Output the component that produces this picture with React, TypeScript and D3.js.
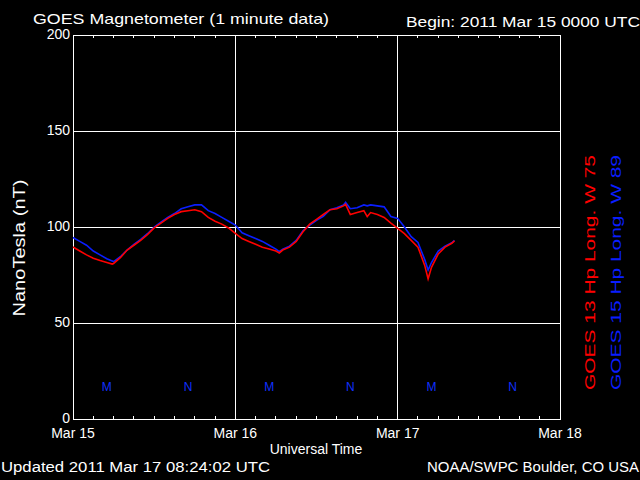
import React from "react";
import * as d3 from "d3";

// hours since 2011 Mar 15 00:00 UTC
const hours = [0, 1, 2, 3, 4, 5, 5.8, 6, 7, 8, 9, 10, 11, 12, 13, 14, 15, 16, 17, 18, 19, 20, 21, 22, 23, 24, 25, 26, 27, 28, 29, 30, 30.5, 31, 32, 33, 34, 35, 36, 37, 38, 39, 40, 40.3, 41, 42, 43, 43.5, 44, 45, 46, 47, 48, 49, 50, 51, 52, 52.5, 53, 54, 55, 56, 56.4];
const goes13 = [89.6, 87.5, 85.5, 83.7, 82.5, 81.5, 80.7, 81, 84, 88, 90.5, 93, 96, 99.5, 102, 104.5, 106.5, 108, 108.5, 109, 108, 105, 103, 101.5, 99.5, 96.7, 94, 92.5, 91, 89.5, 88.5, 87.5, 86.5, 88, 89.5, 92.5, 97.5, 101.5, 104, 106.5, 109, 109.5, 111, 111.8, 106.5, 107.5, 108.5, 105.4, 107.5, 106.5, 105, 102, 99.3, 96.5, 93, 89.5, 80, 73, 79, 86, 89.5, 91.5, 92.8];
const goes15 = [94.5, 92.5, 90.5, 87.5, 85.5, 83.5, 82.3, 82, 84.5, 88, 91, 93.5, 96.5, 100, 102.5, 105, 107, 109.5, 110.5, 111.5, 111.5, 108.5, 107, 105, 103, 101, 97, 95.5, 94, 92.5, 90.5, 88.5, 87.2, 88.5, 90, 93, 98, 101, 103.5, 105.5, 109, 110, 111.5, 112.8, 109.5, 110, 111.5, 111, 111.5, 111, 110.5, 105.5, 104.5, 100, 95, 92, 83, 77.6, 81.5, 87.5, 90, 91.8, 93];

const yTicks = [0, 50, 100, 150, 200];
const dayLabels = ["Mar 15", "Mar 16", "Mar 17", "Mar 18"];
const midnightHours = [5, 29, 53];
const noonHours = [17, 41, 65];

const W = 640, H = 480;
const left = 73, right = 560, top = 35, bottom = 419;
const font = "'Liberation Sans', Arial, sans-serif";

export default function App() {
  const x = d3.scaleLinear().domain([0, 72]).range([left, right]);
  const y = d3.scaleLinear().domain([0, 200]).range([bottom, top]);
  const line = (vals: number[]) =>
    d3.line<number>().x((_, i) => x(hours[i])).y((v) => y(v))(vals) || "";
  const minor = d3.range(3, 72, 3).filter((h) => h % 24 !== 0);

  return (
    <svg width={W} height={H} style={{ position: "fixed", left: 0, top: 0, background: "#000" }}>
      <rect x={0} y={0} width={W} height={H} fill="#000" />
      <g stroke="#fff" strokeWidth={1} shapeRendering="crispEdges">
        {yTicks.slice(1, -1).map((t) => (
          <line key={t} x1={left} x2={right} y1={y(t)} y2={y(t)} />
        ))}
        {[24, 48].map((h) => (
          <line key={h} x1={x(h)} x2={x(h)} y1={top} y2={bottom} />
        ))}
        {minor.map((h) => (
          <g key={h}>
            <line x1={x(h)} x2={x(h)} y1={top} y2={top + 3} />
            <line x1={x(h)} x2={x(h)} y1={bottom} y2={bottom - 3} />
          </g>
        ))}
        <rect x={left} y={top} width={right - left} height={bottom - top} fill="none" />
      </g>
      <path d={line(goes15)} fill="none" stroke="#0a1eff" strokeWidth={1.6} />
      <path d={line(goes13)} fill="none" stroke="#ff0000" strokeWidth={1.6} />
      <g fill="#1030ff" fontFamily={font} fontSize={12} textAnchor="middle">
        {midnightHours.map((h) => (
          <text key={"m" + h} x={x(h)} y={391}>M</text>
        ))}
        {noonHours.map((h) => (
          <text key={"n" + h} x={x(h)} y={391}>N</text>
        ))}
      </g>
      <g fill="#fff" fontFamily={font} fontSize={14}>
        {yTicks.map((t) => (
          <text key={t} x={70} y={y(t) + 4} textAnchor="end">{t}</text>
        ))}
        {dayLabels.map((d, i) => (
          <text key={d} x={x(i * 24)} y={438} textAnchor="middle">{d}</text>
        ))}
        <text x={316} y={454} textAnchor="middle">Universal Time</text>
        <text x={33} y={24} fontSize={15} textLength={296} lengthAdjust="spacingAndGlyphs">GOES Magnetometer (1 minute data)</text>
        <text x={406} y={27} textLength={234} lengthAdjust="spacingAndGlyphs">Begin:  2011 Mar 15 0000 UTC</text>
        <text x={1} y={472} textLength={269} lengthAdjust="spacingAndGlyphs">Updated 2011 Mar 17 08:24:02 UTC</text>
        <text x={427} y={472} textLength={212} lengthAdjust="spacingAndGlyphs">NOAA/SWPC Boulder, CO USA</text>
        <text transform="translate(25,248) rotate(-90)" textAnchor="middle" fontSize={16} textLength={137} lengthAdjust="spacingAndGlyphs">NanoTesla (nT)</text>
      </g>
      <g fontFamily={font} fontSize={14}>
        <text transform="translate(595,390) rotate(-90)" fill="#ff0000" textLength={235} lengthAdjust="spacingAndGlyphs">GOES 13 Hp  Long. W 75</text>
        <text transform="translate(621,390) rotate(-90)" fill="#0a1eff" textLength={235} lengthAdjust="spacingAndGlyphs">GOES 15 Hp  Long. W 89</text>
      </g>
    </svg>
  );
}
